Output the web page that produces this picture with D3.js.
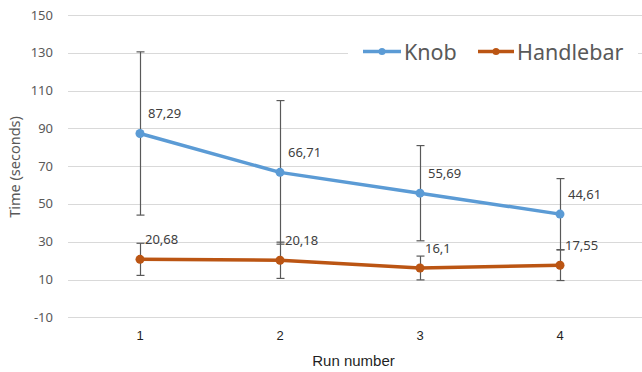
<!DOCTYPE html>
<html><head><meta charset="utf-8">
<script src="https://cdn.jsdelivr.net/npm/d3@7"></script>
<style>body{margin:0;background:#fff;}svg{display:block;}</style>
</head><body>
<script>
const categories = ["1","2","3","4"];
const knobValues = [87.29, 66.71, 55.69, 44.61];
const knobErrors = [43.2, 38.0, 25.2, 18.8];
const handleValues = [20.68, 20.18, 16.1, 17.55];
const handleErrors = [8.5, 9.6, 6.3, 8.1];
const knobLabels = ["87,29","66,71","55,69","44,61"];
const handleLabels = ["20,68","20,18","16,1","17,55"];
const yTicks = [-10, 10, 30, 50, 70, 90, 110, 130, 150];

const W = 642, H = 372;
const svg = d3.select("body").append("svg").attr("width", W).attr("height", H);

const x = d3.scalePoint().domain(categories).range([140, 560]);
const y = d3.scaleLinear().domain([-10, 150]).range([317.3, 15]);

// gridlines
svg.append("g").selectAll("line").data(yTicks).join("line")
  .attr("x1", 68).attr("x2", 642)
  .attr("y1", d => Math.round(y(d)) + 0.5).attr("y2", d => Math.round(y(d)) + 0.5)
  .attr("stroke", "#d9d9d9").attr("stroke-width", 1);

// y tick labels
svg.append("g").selectAll("text").data(yTicks).join("text")
  .attr("x", 53).attr("y", d => y(d)).attr("dy", "0.35em")
  .attr("text-anchor", "end")
  .attr("font-family", "Noto Sans, sans-serif").attr("font-size", 13)
  .attr("fill", "#595959").text(d => d);

// x tick labels
svg.append("g").selectAll("text").data(categories).join("text")
  .attr("x", d => x(d)).attr("y", 340)
  .attr("text-anchor", "middle")
  .attr("font-family", "Liberation Sans, Arial, sans-serif").attr("font-size", 13)
  .attr("fill", "#1f1f1f").text(d => d);

// axis titles
svg.append("text").attr("x", 353.5).attr("y", 366)
  .attr("text-anchor", "middle")
  .attr("font-family", "Liberation Sans, Arial, sans-serif").attr("font-size", 15)
  .attr("fill", "#1f1f1f").text("Run number");
svg.append("text").attr("transform", "translate(20,167) rotate(-90)")
  .attr("text-anchor", "middle")
  .attr("font-family", "Noto Sans, sans-serif").attr("font-size", 14.5)
  .attr("fill", "#595959").text("Time (seconds)");

// legend background
svg.append("rect").attr("x", 348).attr("y", 34).attr("width", 290).attr("height", 34).attr("fill", "#fff");

const series = [
  {name: "Knob", values: knobValues, errs: knobErrors, labels: knobLabels, color: "#5b9bd5", dx: 8},
  {name: "Handlebar", values: handleValues, errs: handleErrors, labels: handleLabels, color: "#bb5513", dx: 5}
];

// error bars
series.forEach(s => {
  const g = svg.append("g");
  categories.forEach((c, i) => {
    const cx = x(c) + 0.5;
    const top = y(s.values[i] + s.errs[i]), bot = y(s.values[i] - s.errs[i]);
    g.append("line").attr("x1", cx).attr("x2", cx).attr("y1", top).attr("y2", bot)
      .attr("stroke", "#595959").attr("stroke-width", 1.2);
    [top, bot].forEach(yy => g.append("line").attr("x1", cx - 4).attr("x2", cx + 4)
      .attr("y1", yy).attr("y2", yy).attr("stroke", "#595959").attr("stroke-width", 1.2));
  });
});

// lines and markers
series.forEach(s => {
  const line = d3.line().x((d, i) => x(categories[i])).y(d => y(d));
  svg.append("path").datum(s.values).attr("d", line)
    .attr("fill", "none").attr("stroke", s.color).attr("stroke-width", 3.5)
    .attr("stroke-linejoin", "round").attr("stroke-linecap", "round");
  svg.append("g").selectAll("circle").data(s.values).join("circle")
    .attr("cx", (d, i) => x(categories[i])).attr("cy", d => y(d)).attr("r", 4.5)
    .attr("fill", s.color);
  svg.append("g").selectAll("text").data(s.values).join("text")
    .attr("x", (d, i) => x(categories[i]) + s.dx).attr("y", d => y(d) - 15)
    .attr("font-family", "Noto Sans, sans-serif").attr("font-size", 13)
    .attr("fill", "#404040").text((d, i) => s.labels[i]);
});

// legend
const legendItems = [
  {name: "Knob", color: "#5b9bd5", x1: 363, x2: 401, tx: 404},
  {name: "Handlebar", color: "#bb5513", x1: 478, x2: 514, tx: 517}
];
legendItems.forEach(l => {
  svg.append("line").attr("x1", l.x1).attr("x2", l.x2).attr("y1", 51.5).attr("y2", 51.5)
    .attr("stroke", l.color).attr("stroke-width", 3.5);
  svg.append("circle").attr("cx", (l.x1 + l.x2) / 2).attr("cy", 51.5).attr("r", 3.5).attr("fill", l.color);
  svg.append("text").attr("x", l.tx).attr("y", 59.5)
    .attr("font-family", "Noto Sans, sans-serif").attr("font-size", 21.5)
    .attr("fill", "#595959").text(l.name);
});
</script>
</body></html>
